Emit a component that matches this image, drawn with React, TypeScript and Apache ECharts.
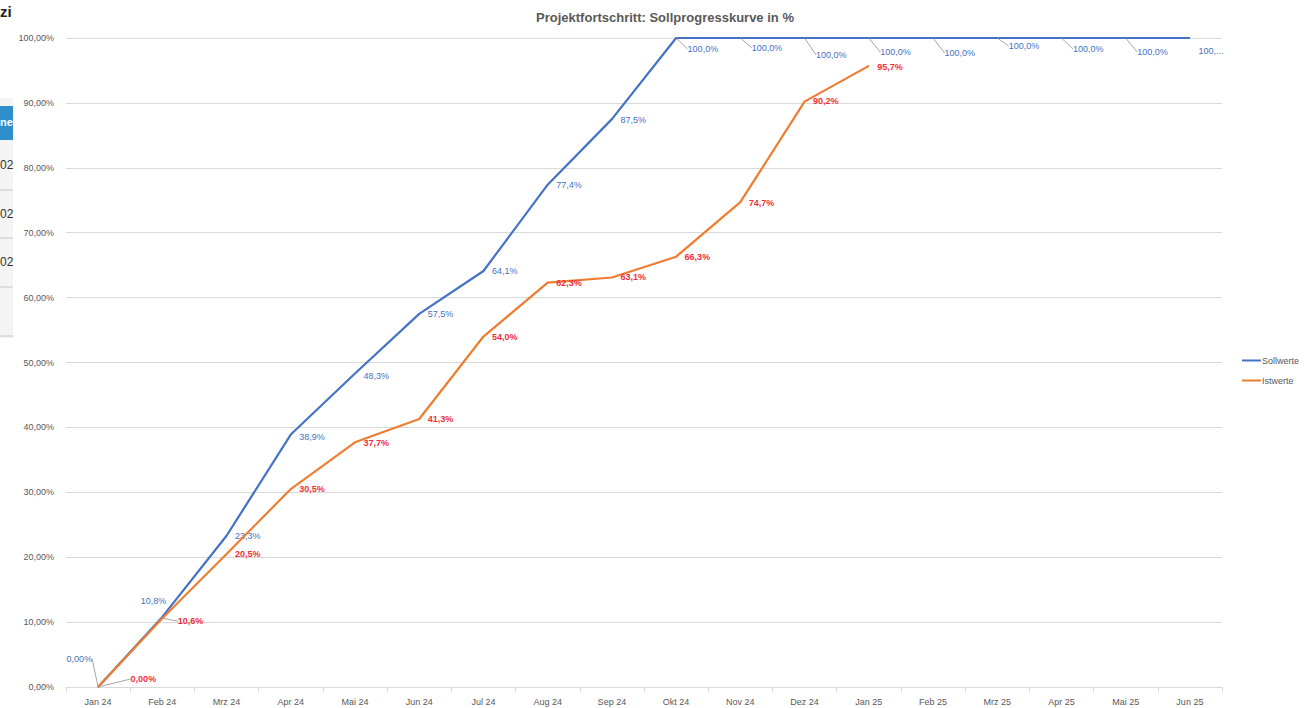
import React, { useEffect, useRef } from "react";
import * as echarts from "echarts";

const categories = [
  "Jan 24", "Feb 24", "Mrz 24", "Apr 24", "Mai 24", "Jun 24", "Jul 24", "Aug 24", "Sep 24",
  "Okt 24", "Nov 24", "Dez 24", "Jan 25", "Feb 25", "Mrz 25", "Apr 25", "Mai 25", "Jun 25",
];
const sollwerte = [0, 10.8, 23.3, 38.9, 48.3, 57.5, 64.1, 77.4, 87.5, 100, 100, 100, 100, 100, 100, 100, 100, 100];
const istwerte = [0, 10.6, 20.5, 30.5, 37.7, 41.3, 54.0, 62.3, 63.1, 66.3, 74.7, 90.2, 95.7];
const yTicks = [0, 10, 20, 30, 40, 50, 60, 70, 80, 90, 100];

// label nudges (layout only): [dx, dy, leaderLine]
const sollNudge: [number, number, boolean][] = [
  [-36, -28, true], [-26, -16, false], [4, 0, false], [4, 2, false], [4, 2, false], [4, 0, false],
  [4, 0, false], [4, 0, false], [4, 1, false], [7, 11, true], [7, 10, true], [7, 17, true],
  [7, 14, true], [7, 15, true], [7, 8, true], [7, 11, true], [7, 14, true], [4, 13, false],
];
const istNudge: [number, number, boolean][] = [
  [28, -8, true], [11, 3, true], [4, 0, false], [4, 0, false], [4, 1, false], [4, 0, false],
  [4, 0, false], [4, 0, false], [4, 0, false], [4, 0, false], [4, 1, false], [4, -1, false], [4, 1, false],
];

const fmt = (v: number, i: number, isLast: boolean) => {
  if (isLast) return "100,...";
  const s = i === 0 ? v.toFixed(2) : v.toFixed(1);
  return s.replace(".", ",") + "%";
};

const FONT = "'Liberation Sans', Arial, sans-serif";

export default function App() {
  const ref = useRef<HTMLDivElement>(null);
  useEffect(() => {
    document.body.style.margin = "0";
    const chart = echarts.init(ref.current!, null, { renderer: "svg" });
    const mkData = (arr: number[], nudges: [number, number, boolean][]) =>
      arr.map((v, i) => ({
        value: v,
        labelLine: { show: nudges[i][2] },
      }));
    const option: any = {
      animation: false,
      backgroundColor: "#ffffff",
      textStyle: { fontFamily: FONT },
      title: {
        text: "Projektfortschritt: Sollprogresskurve in %",
        left: 660,
        textAlign: "center",
        top: 6,
        textStyle: { fontFamily: FONT, fontSize: 13, fontWeight: "bold", color: "#595959" },
      },
      legend: {
        orient: "vertical",
        left: 1237,
        top: 351,
        itemWidth: 19,
        itemHeight: 2,
        itemGap: 11,
        icon: "rect",
        textStyle: { fontFamily: FONT, fontSize: 9, color: "#595959", padding: [0, 0, 0, -4] },
        data: ["Sollwerte", "Istwerte"],
      },
      grid: { left: 66, right: 93, top: 38, bottom: 21, containLabel: false },
      xAxis: {
        type: "category",
        data: categories,
        boundaryGap: true,
        axisLine: { lineStyle: { color: "#d9d9d9" } },
        axisTick: { show: true, length: 5, lineStyle: { color: "#d9d9d9" } },
        axisLabel: { fontFamily: FONT, fontSize: 9, color: "#595959", margin: 10 },
      },
      yAxis: {
        type: "value",
        min: yTicks[0],
        max: yTicks[yTicks.length - 1],
        interval: 10,
        axisLine: { show: false },
        axisTick: { show: false },
        splitLine: { lineStyle: { color: "#d9d9d9" } },
        axisLabel: {
          fontFamily: FONT,
          fontSize: 9,
          color: "#595959",
          margin: 12,
          formatter: (v: number) => v.toFixed(2).replace(".", ",") + "%",
        },
      },
      series: [
        {
          name: "Sollwerte",
          type: "line",
          data: mkData(sollwerte, sollNudge),
          color: "#4472C4",
          lineStyle: { width: 2.2, color: "#4472C4" },
          symbol: "circle",
          symbolSize: 1,
          showSymbol: true,
          itemStyle: { color: "#4472C4" },
          label: {
            show: true,
            position: "right",
            distance: 4,
            fontFamily: FONT,
            fontSize: 9,
            color: "#4472C4",
            formatter: (p: any) => fmt(p.value, p.dataIndex, p.dataIndex === sollwerte.length - 1),
          },
          labelLine: { show: false, lineStyle: { color: "#a6a6a6", width: 1 } },
          labelLayout: (p: any) => ({ dx: sollNudge[p.dataIndex][0], dy: sollNudge[p.dataIndex][1] }),
          z: 3,
        },
        {
          name: "Istwerte",
          type: "line",
          data: mkData(istwerte, istNudge),
          color: "#ED7D31",
          lineStyle: { width: 2.2, color: "#ED7D31" },
          symbol: "circle",
          symbolSize: 1,
          showSymbol: true,
          itemStyle: { color: "#ED7D31" },
          label: {
            show: true,
            position: "right",
            distance: 4,
            fontFamily: FONT,
            fontSize: 9,
            fontWeight: "bold",
            color: "#F0303A",
            formatter: (p: any) => fmt(p.value, p.dataIndex, false),
          },
          labelLine: { show: false, lineStyle: { color: "#a6a6a6", width: 1 } },
          labelLayout: (p: any) => ({ dx: istNudge[p.dataIndex][0], dy: istNudge[p.dataIndex][1] }),
          z: 4,
        },
      ],
      graphic: [
        { type: "text", left: 0, top: 4, style: { text: "zi", font: "bold 15px 'Liberation Sans', Arial", fill: "#222" } },
        { type: "rect", shape: { x: 0, y: 98, width: 13, height: 240 }, style: { fill: "#f4f4f4" } },
        { type: "rect", shape: { x: 0, y: 106, width: 13, height: 34 }, style: { fill: "#2f8fca" } },
        { type: "text", x: 0, y: 116, style: { text: "ne", font: "bold 11px 'Liberation Sans', Arial", fill: "#ffffff" } },
        { type: "text", x: 0, y: 159, style: { text: "02", font: "12px 'Liberation Sans', Arial", fill: "#333" } },
        { type: "text", x: 0, y: 208, style: { text: "02", font: "12px 'Liberation Sans', Arial", fill: "#333" } },
        { type: "text", x: 0, y: 256, style: { text: "02", font: "12px 'Liberation Sans', Arial", fill: "#333" } },
        { type: "line", shape: { x1: 0, y1: 190, x2: 13, y2: 190 }, style: { stroke: "#c8c8c8", lineWidth: 1 } },
        { type: "line", shape: { x1: 0, y1: 238, x2: 13, y2: 238 }, style: { stroke: "#c8c8c8", lineWidth: 1 } },
        { type: "line", shape: { x1: 0, y1: 287, x2: 13, y2: 287 }, style: { stroke: "#c8c8c8", lineWidth: 1 } },
        { type: "line", shape: { x1: 0, y1: 336, x2: 13, y2: 336 }, style: { stroke: "#c8c8c8", lineWidth: 1 } },
      ],
    };
    chart.setOption(option);
    return () => chart.dispose();
  }, []);
  return <div ref={ref} style={{ position: "fixed", left: 0, top: 0, width: 1315, height: 708 }} />;
}
